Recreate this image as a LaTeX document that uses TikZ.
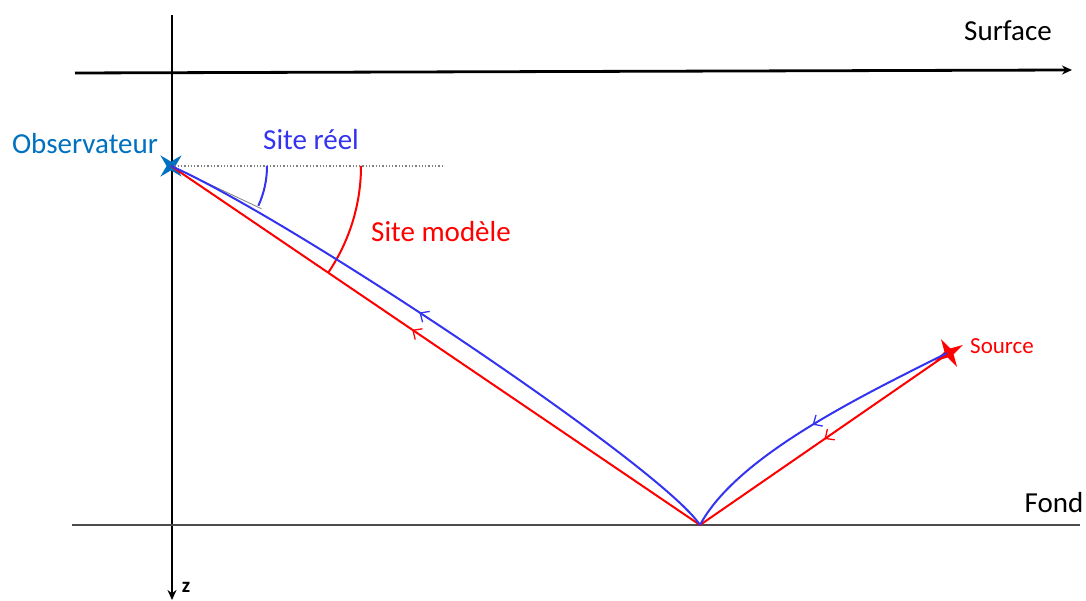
\documentclass[tikz,border=0pt]{standalone}
\usepackage{fontspec}
\setmainfont{Carlito}
\usepackage{tikz}
\usetikzlibrary{shapes.geometric}
\usetikzlibrary{arrows.meta}
\usetikzlibrary{decorations.markings}
\definecolor{obsblue}{RGB}{0,112,192}
\definecolor{rayblue}{RGB}{51,51,240}
\tikzstyle{axis}=[line width=2.8pt, -{Stealth[length=10pt,width=9pt]}]
\tikzstyle{ray}=[line width=2pt]
\tikzstyle{label}=[font=\fontsize{29}{34}\selectfont]
\tikzstyle{midarrow}=[postaction={decorate}, decoration={markings,
    mark=at position #1 with {\arrow{Straight Barb[length=7pt,width=13pt,line width=1.3pt]}}}]
\tikzstyle{star4}=[star, star points=4, star point ratio=3.4, inner sep=0pt, minimum size=30pt]

\begin{document}
\begin{tikzpicture}[x=1pt, y=1pt]
        \useasboundingbox (0,0) rectangle (1086,601);
        %\draw[step=50, gray, very thin] (0,0) grid (1086,601);
        % axes
        \draw[axis] (172,586) -- (172,1);
        \node[font=\fontsize{21}{24}\selectfont\bfseries] (zlab) at (186,14) {z};
        \draw[axis] (75,528) -- (1072,531);
        \node[label] (surf) at (1008,570) {Surface};
        \draw[line width=1.3pt, black!70] (72,76) -- (1080,76);
        \node[label] (fond) at (1054,98) {Fond};

        % points
        \node[star4, fill=obsblue, rotate=45] (obs) at (171,435) {};
        \node[label, text=obsblue] (obslab) at (85,457) {Observateur};
        \node[star4, fill=red, rotate=30, minimum size=32pt] (src) at (949,248) {};
        \node[font=\fontsize{23}{27}\selectfont, text=red] (srclab) at (1002,255) {Source};
        \coordinate (B) at (700,76);

        % horizontale et angles
        \draw[gray, dotted, line width=1.3pt] (obs.center) -- (442,435);
        \draw[gray, line width=0.8pt] (obs.center) -- ++(-25.3:100);
        \draw[rayblue, line width=2pt] (obs.center) ++(0:96) arc[start angle=0, end angle=-24.5, radius=96];
        \draw[red, line width=2pt] (obs.center) ++(0:190) arc[start angle=0, end angle=-34.2, radius=190];
        \node[label, text=rayblue] (reel) at (311,461) {Site r\'eel};
        \node[label, text=red] (model) at (441,369) {Site mod\`ele};

        % rayons
        \draw[ray, red, midarrow=0.5] (src.center) -- (B);
        \draw[ray, red, midarrow=0.544] (B) -- (obs.center);
        \draw[ray, rayblue, midarrow=0.5] (947,248) .. controls (866.9,207.5) and (737.6,146.4) .. (B);
        \draw[ray, rayblue, midarrow=0.55] (B) .. controls (661.5,134.45) and (290.8,382.1) .. (obs.center);
    \end{tikzpicture}
\end{document}
